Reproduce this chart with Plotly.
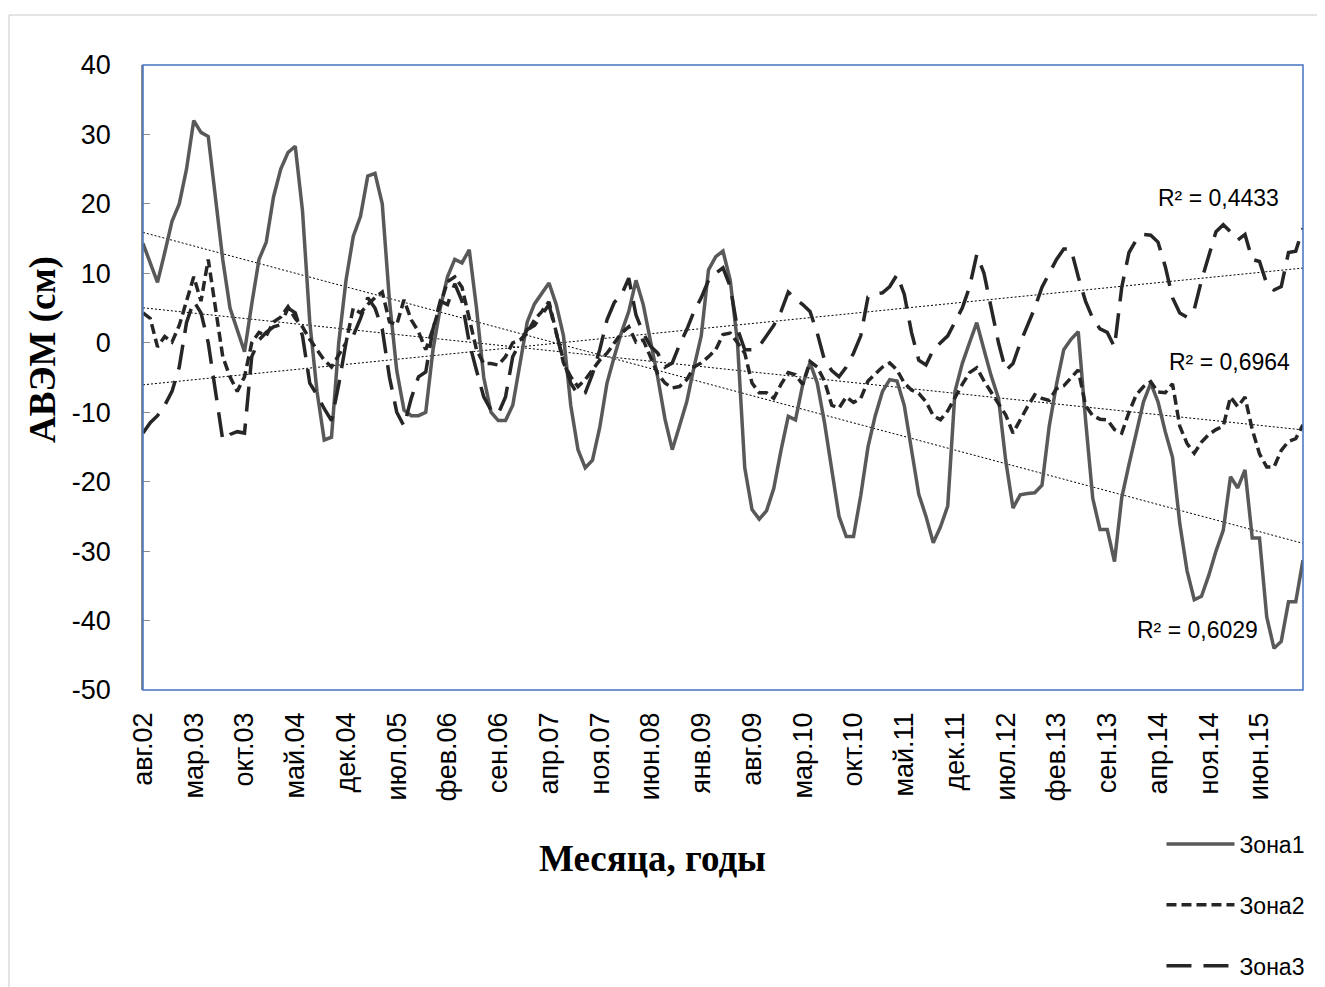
import numpy as np
import plotly.graph_objects as go

# ---- data (monthly, Aug 2002 .. Dec 2015) ----
zone1 = [14.3, 11.5, 8.7, 13, 17.5, 20, 25, 32, 30.3, 29.7, 21, 12, 5, 1.9, -1.3, 5.6, 12, 14.5, 21, 25,
         27.4, 28.3, 19, 3, -7, -14, -13.6, 0, 9, 15.3, 18.2, 24, 24.4, 20, 6, -4, -9.7, -10.5, -10.5, -10,
         -1, 5, 9.5, 12, 11.5, 13.4, 5, -5, -10, -11.2, -11.2, -9, -3, 3, 5.6, 7, 8.6, 5.5, 1, -9,
         -15.4, -18, -16.9, -12.2, -5.8, -2, 1.5, 4.5, 9, 5.5, 0.5, -5, -11, -15.4, -12, -8.5, -3.5, 1, 10.5, 12.4,
         13.2, 9, 0, -18, -24, -25.4, -24.2, -21, -15.5, -10.6, -11.1, -6, -2.9, -5.8, -11.5, -18.5, -25, -27.9, -27.9, -22,
         -15, -10.5, -7, -5.3, -5.5, -9, -15.5, -21.8, -25, -28.8, -26.5, -23.5, -7, -3, 0, 2.9, -1, -4.8, -8, -17,
         -23.8, -21.9, -21.7, -21.6, -20.5, -12, -6, -1, 0.5, 1.6, -11, -22.4, -26.9, -26.9, -31.5, -22.3, -17.5, -13, -8.5, -5.8,
         -8.5, -12.8, -16.5, -26, -32.8, -37, -36.5, -33.5, -30, -27, -19.3, -20.9, -18.3, -28.1, -28.1, -39.5, -44, -43, -37.3, -37.3,
         -31.3]
zone2 = [4.3, 3.5, -0.6, 0.9, 0.1, 2.5, 6, 9.5, 6, 12, 5, -2, -4.9, -7, -4.9, 0, 1.5, 1, 3, 3.7,
         5.2, 3.5, 2.3, 0.5, -1, -2.5, -3.5, -1.7, 0, 5, 4.3, 5.5, 6.5, 7.3, 3, 2.6, 6.2, 3.3, 1.6, -1,
         2, 5.5, 8.8, 9.5, 8, 3.5, -1, -3, -3, -3.2, -2, 0, 0.4, 1.4, 3.3, 4.5, 5.9, 1.5, -2.9, -4.9,
         -6.3, -5.3, -3.9, -2.5, -1.5, 0, 1.4, 2.3, 0.1, 0.4, -2, -4.5, -5.8, -6.5, -6.3, -5.3, -3.5, -2.9, -2, -1,
         1.2, 1.4, 0, -1.5, -5.8, -7.2, -7.2, -8, -6, -4.3, -4.6, -6, -2.7, -3.5, -5.5, -9, -9.4, -7.8, -8.6, -8,
         -5.5, -4.5, -3.5, -2.9, -3.9, -5.8, -6.8, -7.3, -8.5, -10.5, -11.1, -9.8, -7.8, -6, -4.3, -3.6, -5.5, -7.2, -8.8, -10.4,
         -13, -11, -9.2, -7.5, -8, -8.3, -6.6, -6.2, -5, -3.9, -9, -10.5, -11, -11.1, -12.5, -13, -10, -7.5, -6.3, -5.6,
         -7.1, -7.2, -5.9, -12, -14.5, -15.9, -14.3, -13.2, -12.5, -12, -7.8, -9.2, -7.8, -12.5, -16, -17.9, -17.9, -15.5, -14.2, -13.8,
         -11.8]
zone3 = [-13, -11.5, -10.5, -9, -7, -3.5, 2.9, 6, 4.3, 0, -7, -14, -13.2, -12.8, -13, -2, 0.4, 1.5, 2.3, 2.6,
         5, 4.3, 1, -5.8, -7.5, -9.5, -11.2, -6, 0, 1, 3.5, 6.5, 5, 2, -5, -10, -12, -8, -4.9, -4.2,
         2, 6, 5.5, 8.5, 6, 0, -4, -7.8, -9.7, -10.2, -7.8, -2, 0, 1.9, 2.5, 4, 5.5, 1.4, -2.5, -5.8,
         -7.5, -7.2, -4.5, -1, 3.3, 5.8, 6.9, 9.3, 4, 1.4, -0.5, -1.5, -3.5, -2.9, -0.3, 1.9, 4.5, 6.5, 9, 10,
         10.8, 8.1, 2, -1, -1, -0.5, 1, 2.5, 4.5, 7.3, 6.3, 5.5, 4.5, 1.4, -2.5, -4, -4.9, -3.5, -1.5, 1,
         6.6, 7, 7.2, 8.1, 9.8, 7, 1.5, -2.5, -3.2, -1, 0, 1, 3, 5, 8, 12.7, 10, 5, 0, -4,
         -3, 0, 2.5, 5, 8, 10, 12, 13.5, 13.5, 9.5, 6, 3.5, 2, 1.5, -0.6, 8, 13, 14.8, 15.6, 15.5,
         14.5, 11, 6.5, 4.3, 3.7, 4.8, 9, 12.5, 16, 17, 16, 14.8, 15.6, 12, 11.7, 8.5, 7.6, 8.1, 13, 13.2,
         16.5]
tick_labels = ["авг.02", "мар.03", "окт.03", "май.04", "дек.04", "июл.05", "фев.06", "сен.06",
               "апр.07", "ноя.07", "июн.08", "янв.09", "авг.09", "мар.10", "окт.10", "май.11",
               "дек.11", "июл.12", "фев.13", "сен.13", "апр.14", "ноя.14", "июн.15"]
y_ticks = [40, 30, 20, 10, 0, -10, -20, -30, -40, -50]
series_names = ["Зона1", "Зона2", "Зона3"]
r2_labels = ["R² = 0,6029", "R² = 0,6964", "R² = 0,4433"]
x_title = "Месяца, годы"
y_title = "АВЭМ (см)"

n = len(zone1)
x = np.arange(n)
tick_step = 7
tickvals = [i * tick_step for i in range(len(tick_labels))]

fig = go.Figure()

styles = [
    dict(color="#595959", width=3.5, dash="solid"),
    dict(color="#262626", width=3.5, dash="10px,5px"),
    dict(color="#262626", width=3.5, dash="25px,12px"),
]
all_series = [zone1, zone2, zone3]

# trendlines (linear fit, dotted)
trend_end = []
for ys in all_series:
    k, b = np.polyfit(x, np.array(ys, dtype=float), 1)
    ty = k * x + b
    trend_end.append(ty[-1])
    fig.add_trace(go.Scatter(x=x, y=ty, mode="lines", showlegend=False, hoverinfo="skip",
                             line=dict(color="#000000", width=1, dash="2px,2px")))

for name, ys, st, g in zip(series_names, all_series, styles, ["a", "b", "c"]):
    fig.add_trace(go.Scatter(x=x, y=ys, mode="lines", name=name, legendgroup=g, line=st))

afont = dict(family="Liberation Sans", size=23, color="#000")
# R² labels
fig.add_annotation(x=n - 1, y=trend_end[2], xref="x", yref="y", text=r2_labels[2], showarrow=False,
                   xanchor="right", yanchor="bottom", yshift=55, xshift=-22, font=afont)
fig.add_annotation(x=n - 1, y=trend_end[1], xref="x", yref="y", text=r2_labels[1], showarrow=False,
                   xanchor="right", yanchor="bottom", yshift=53, xshift=-11, font=afont)
fig.add_annotation(x=n - 1, y=trend_end[0], xref="x", yref="y", text=r2_labels[0], showarrow=False,
                   xanchor="right", yanchor="top", yshift=-72, xshift=-43, font=afont)

# axis titles
fig.add_annotation(x=-0.0862, y=0.544, xref="paper", yref="paper", text="<b>" + y_title + "</b>",
                   showarrow=False, textangle=-90, xanchor="center", yanchor="middle",
                   font=dict(family="Liberation Serif", size=37, color="#000"))
fig.add_annotation(x=0.4388, y=-0.2688, xref="paper", yref="paper", text="<b>" + x_title + "</b>",
                   showarrow=False, xanchor="center", yanchor="middle",
                   font=dict(family="Liberation Serif", size=37, color="#000"))

# outer chart border and plot area border
fig.add_shape(type="rect", xref="paper", yref="paper", x0=-0.1155, x1=1.0129, y0=-0.7, y1=1.08,
              line=dict(color="#C8C8C8", width=1), layer="below")
fig.add_shape(type="rect", xref="paper", yref="paper", x0=0, x1=1, y0=0, y1=1,
              line=dict(color="#4472C4", width=1.5), layer="above")

fig.update_layout(
    width=1317, height=979,
    margin=dict(l=135, r=22, t=57, b=297, autoexpand=False),
    paper_bgcolor="white", plot_bgcolor="white",
    font=dict(family="Liberation Sans", color="#000"),
    xaxis=dict(range=[0, n - 1], tickmode="array", tickvals=tickvals, ticktext=tick_labels,
               tickangle=-90, tickfont=dict(size=27, family="Liberation Sans", color="#000"),
               ticklabelstandoff=16,
               showgrid=False, zeroline=False, showline=False, ticks=""),
    yaxis=dict(range=[-50, 40], tickmode="array", tickvals=y_ticks,
               ticktext=[str(v) for v in y_ticks],
               tickfont=dict(size=27, family="Liberation Sans", color="#000"),
               ticklabelstandoff=25,
               showgrid=False, zeroline=False, showline=True, linecolor="#8C8C8C", linewidth=1.5,
               ticks="inside", ticklen=7, tickcolor="#8C8C8C"),
    legend=dict(x=0.878, xanchor="left", y=-0.212, yanchor="top", tracegroupgap=28,
                itemwidth=68,
                font=dict(family="Liberation Sans", size=23, color="#000"), bgcolor="rgba(0,0,0,0)"),
)

fig.write_html("out.html")
